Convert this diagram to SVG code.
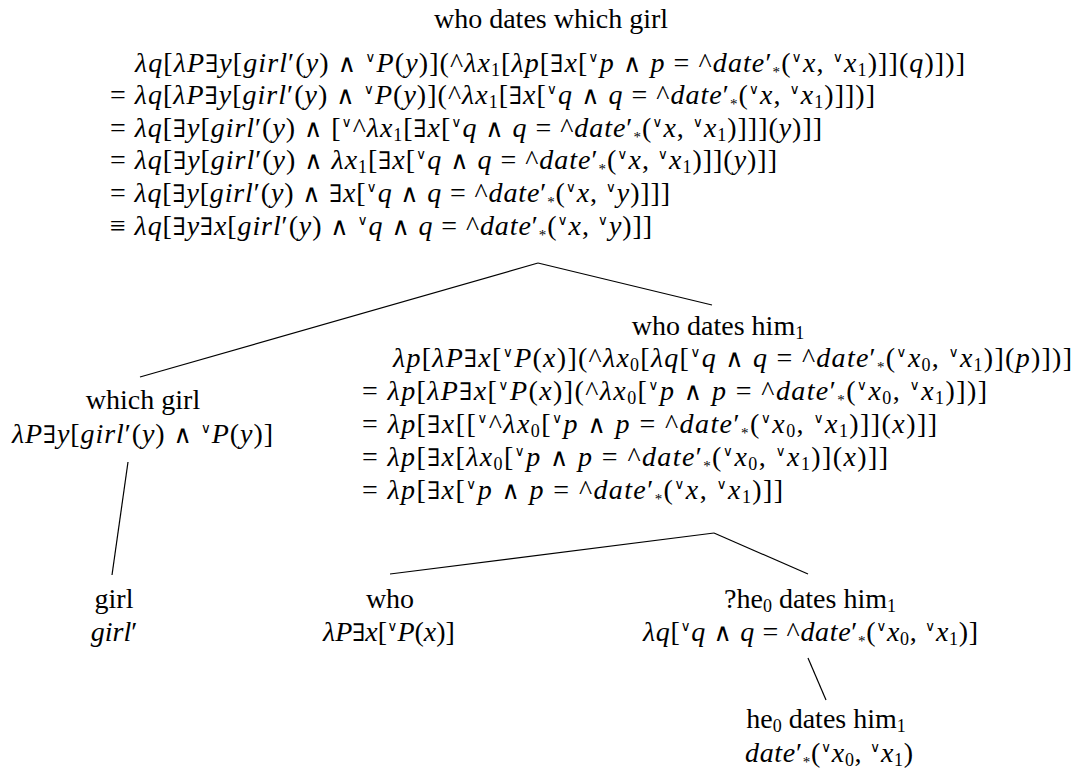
<svg xmlns="http://www.w3.org/2000/svg" width="1074" height="771" viewBox="0 0 1074 771">
<style>
text{font-family:"Liberation Serif","DejaVu Serif",serif;font-size:28px;fill:#000}
.i{font-style:italic}
.v{font-size:14px;baseline-shift:10px;font-family:"DejaVu Sans",sans-serif}
.sb{font-size:18px;baseline-shift:-4px}
.st{font-size:15px;baseline-shift:-5px}
.w{font-family:"DejaVu Sans",sans-serif;font-size:25px}
.e{font-family:"DejaVu Serif",serif;font-size:24px}
.mid{text-anchor:middle}
#edges line{stroke:#000;stroke-width:1.2}
</style>
<g id="edges">
<line x1="538" y1="263" x2="140" y2="377"/>
<line x1="538" y1="263" x2="712" y2="305"/>
<line x1="128" y1="462" x2="112" y2="575"/>
<line x1="714" y1="533" x2="390" y2="574"/>
<line x1="714" y1="533" x2="808" y2="574"/>
<line x1="808" y1="658" x2="826" y2="700"/>
</g>
<g id="n-root">
<text class="mid" x="551" y="28">who dates which girl</text>
<text x="135" y="72" textLength="830" lengthAdjust="spacing"><tspan class="i">λq</tspan>[<tspan class="i">λP</tspan><tspan class="e">∃</tspan><tspan class="i">y</tspan>[<tspan class="i">girl</tspan>′(<tspan class="i">y</tspan>) <tspan class="w">∧</tspan> <tspan class="v">∨</tspan><tspan class="i">P</tspan>(<tspan class="i">y</tspan>)](^<tspan class="i">λx</tspan><tspan class="sb">1</tspan>[<tspan class="i">λp</tspan>[<tspan class="e">∃</tspan><tspan class="i">x</tspan>[<tspan class="v">∨</tspan><tspan class="i">p</tspan> <tspan class="w">∧</tspan> <tspan class="i">p</tspan> = ^<tspan class="i">date</tspan>′<tspan class="st">*</tspan>(<tspan class="v">∨</tspan><tspan class="i">x</tspan>, <tspan class="v">∨</tspan><tspan class="i">x</tspan><tspan class="sb">1</tspan>)]](<tspan class="i">q</tspan>)])]</text>
<text x="110" y="104" textLength="765" lengthAdjust="spacing">= <tspan class="i">λq</tspan>[<tspan class="i">λP</tspan><tspan class="e">∃</tspan><tspan class="i">y</tspan>[<tspan class="i">girl</tspan>′(<tspan class="i">y</tspan>) <tspan class="w">∧</tspan> <tspan class="v">∨</tspan><tspan class="i">P</tspan>(<tspan class="i">y</tspan>)](^<tspan class="i">λx</tspan><tspan class="sb">1</tspan>[<tspan class="e">∃</tspan><tspan class="i">x</tspan>[<tspan class="v">∨</tspan><tspan class="i">q</tspan> <tspan class="w">∧</tspan> <tspan class="i">q</tspan> = ^<tspan class="i">date</tspan>′<tspan class="st">*</tspan>(<tspan class="v">∨</tspan><tspan class="i">x</tspan>, <tspan class="v">∨</tspan><tspan class="i">x</tspan><tspan class="sb">1</tspan>)]])]</text>
<text x="110" y="137" textLength="712" lengthAdjust="spacing">= <tspan class="i">λq</tspan>[<tspan class="e">∃</tspan><tspan class="i">y</tspan>[<tspan class="i">girl</tspan>′(<tspan class="i">y</tspan>) <tspan class="w">∧</tspan> [<tspan class="v">∨</tspan>^<tspan class="i">λx</tspan><tspan class="sb">1</tspan>[<tspan class="e">∃</tspan><tspan class="i">x</tspan>[<tspan class="v">∨</tspan><tspan class="i">q</tspan> <tspan class="w">∧</tspan> <tspan class="i">q</tspan> = ^<tspan class="i">date</tspan>′<tspan class="st">*</tspan>(<tspan class="v">∨</tspan><tspan class="i">x</tspan>, <tspan class="v">∨</tspan><tspan class="i">x</tspan><tspan class="sb">1</tspan>)]]](<tspan class="i">y</tspan>)]]</text>
<text x="110" y="169" textLength="667" lengthAdjust="spacing">= <tspan class="i">λq</tspan>[<tspan class="e">∃</tspan><tspan class="i">y</tspan>[<tspan class="i">girl</tspan>′(<tspan class="i">y</tspan>) <tspan class="w">∧</tspan> <tspan class="i">λx</tspan><tspan class="sb">1</tspan>[<tspan class="e">∃</tspan><tspan class="i">x</tspan>[<tspan class="v">∨</tspan><tspan class="i">q</tspan> <tspan class="w">∧</tspan> <tspan class="i">q</tspan> = ^<tspan class="i">date</tspan>′<tspan class="st">*</tspan>(<tspan class="v">∨</tspan><tspan class="i">x</tspan>, <tspan class="v">∨</tspan><tspan class="i">x</tspan><tspan class="sb">1</tspan>)]](<tspan class="i">y</tspan>)]]</text>
<text x="110" y="202" textLength="560" lengthAdjust="spacing">= <tspan class="i">λq</tspan>[<tspan class="e">∃</tspan><tspan class="i">y</tspan>[<tspan class="i">girl</tspan>′(<tspan class="i">y</tspan>) <tspan class="w">∧</tspan> <tspan class="e">∃</tspan><tspan class="i">x</tspan>[<tspan class="v">∨</tspan><tspan class="i">q</tspan> <tspan class="w">∧</tspan> <tspan class="i">q</tspan> = ^<tspan class="i">date</tspan>′<tspan class="st">*</tspan>(<tspan class="v">∨</tspan><tspan class="i">x</tspan>, <tspan class="v">∨</tspan><tspan class="i">y</tspan>)]]]</text>
<text x="110" y="235" textLength="542" lengthAdjust="spacing">≡ <tspan class="i">λq</tspan>[<tspan class="e">∃</tspan><tspan class="i">y</tspan><tspan class="e">∃</tspan><tspan class="i">x</tspan>[<tspan class="i">girl</tspan>′(<tspan class="i">y</tspan>) <tspan class="w">∧</tspan> <tspan class="v">∨</tspan><tspan class="i">q</tspan> <tspan class="w">∧</tspan> <tspan class="i">q</tspan> = ^<tspan class="i">date</tspan>′<tspan class="st">*</tspan>(<tspan class="v">∨</tspan><tspan class="i">x</tspan>, <tspan class="v">∨</tspan><tspan class="i">y</tspan>)]]</text>
</g>
<g id="n-wdh">
<text class="mid" x="718" y="335">who dates him<tspan class="sb">1</tspan></text>
<text x="393" y="367" textLength="679" lengthAdjust="spacing"><tspan class="i">λp</tspan>[<tspan class="i">λP</tspan><tspan class="e">∃</tspan><tspan class="i">x</tspan>[<tspan class="v">∨</tspan><tspan class="i">P</tspan>(<tspan class="i">x</tspan>)](^<tspan class="i">λx</tspan><tspan class="sb">0</tspan>[<tspan class="i">λq</tspan>[<tspan class="v">∨</tspan><tspan class="i">q</tspan> <tspan class="w">∧</tspan> <tspan class="i">q</tspan> = ^<tspan class="i">date</tspan>′<tspan class="st">*</tspan>(<tspan class="v">∨</tspan><tspan class="i">x</tspan><tspan class="sb">0</tspan>, <tspan class="v">∨</tspan><tspan class="i">x</tspan><tspan class="sb">1</tspan>)](<tspan class="i">p</tspan>)])]</text>
<text x="362" y="400" textLength="625" lengthAdjust="spacing">= <tspan class="i">λp</tspan>[<tspan class="i">λP</tspan><tspan class="e">∃</tspan><tspan class="i">x</tspan>[<tspan class="v">∨</tspan><tspan class="i">P</tspan>(<tspan class="i">x</tspan>)](^<tspan class="i">λx</tspan><tspan class="sb">0</tspan>[<tspan class="v">∨</tspan><tspan class="i">p</tspan> <tspan class="w">∧</tspan> <tspan class="i">p</tspan> = ^<tspan class="i">date</tspan>′<tspan class="st">*</tspan>(<tspan class="v">∨</tspan><tspan class="i">x</tspan><tspan class="sb">0</tspan>, <tspan class="v">∨</tspan><tspan class="i">x</tspan><tspan class="sb">1</tspan>)])]</text>
<text x="362" y="433" textLength="575" lengthAdjust="spacing">= <tspan class="i">λp</tspan>[<tspan class="e">∃</tspan><tspan class="i">x</tspan>[[<tspan class="v">∨</tspan>^<tspan class="i">λx</tspan><tspan class="sb">0</tspan>[<tspan class="v">∨</tspan><tspan class="i">p</tspan> <tspan class="w">∧</tspan> <tspan class="i">p</tspan> = ^<tspan class="i">date</tspan>′<tspan class="st">*</tspan>(<tspan class="v">∨</tspan><tspan class="i">x</tspan><tspan class="sb">0</tspan>, <tspan class="v">∨</tspan><tspan class="i">x</tspan><tspan class="sb">1</tspan>)]](<tspan class="i">x</tspan>)]]</text>
<text x="362" y="466" textLength="526" lengthAdjust="spacing">= <tspan class="i">λp</tspan>[<tspan class="e">∃</tspan><tspan class="i">x</tspan>[<tspan class="i">λx</tspan><tspan class="sb">0</tspan>[<tspan class="v">∨</tspan><tspan class="i">p</tspan> <tspan class="w">∧</tspan> <tspan class="i">p</tspan> = ^<tspan class="i">date</tspan>′<tspan class="st">*</tspan>(<tspan class="v">∨</tspan><tspan class="i">x</tspan><tspan class="sb">0</tspan>, <tspan class="v">∨</tspan><tspan class="i">x</tspan><tspan class="sb">1</tspan>)](<tspan class="i">x</tspan>)]]</text>
<text x="362" y="499" textLength="421" lengthAdjust="spacing">= <tspan class="i">λp</tspan>[<tspan class="e">∃</tspan><tspan class="i">x</tspan>[<tspan class="v">∨</tspan><tspan class="i">p</tspan> <tspan class="w">∧</tspan> <tspan class="i">p</tspan> = ^<tspan class="i">date</tspan>′<tspan class="st">*</tspan>(<tspan class="v">∨</tspan><tspan class="i">x</tspan>, <tspan class="v">∨</tspan><tspan class="i">x</tspan><tspan class="sb">1</tspan>)]]</text>
</g>
<g id="n-wg">
<text class="mid" x="143" y="409">which girl</text>
<text x="12" y="443" textLength="261" lengthAdjust="spacing"><tspan class="i">λP</tspan><tspan class="e">∃</tspan><tspan class="i">y</tspan>[<tspan class="i">girl</tspan>′(<tspan class="i">y</tspan>) <tspan class="w">∧</tspan> <tspan class="v">∨</tspan><tspan class="i">P</tspan>(<tspan class="i">y</tspan>)]</text>
</g>
<g id="n-girl">
<text class="mid" x="114" y="608">girl</text>
<text class="mid" x="114" y="641"><tspan class="i">girl</tspan>′</text>
</g>
<g id="n-who">
<text class="mid" x="390" y="608">who</text>
<text class="mid" x="389" y="641"><tspan class="i">λP</tspan><tspan class="e">∃</tspan><tspan class="i">x</tspan>[<tspan class="v">∨</tspan><tspan class="i">P</tspan>(<tspan class="i">x</tspan>)]</text>
</g>
<g id="n-qhe">
<text class="mid" x="810" y="608">?he<tspan class="sb">0</tspan> dates him<tspan class="sb">1</tspan></text>
<text x="643" y="641" textLength="335" lengthAdjust="spacing"><tspan class="i">λq</tspan>[<tspan class="v">∨</tspan><tspan class="i">q</tspan> <tspan class="w">∧</tspan> <tspan class="i">q</tspan> = ^<tspan class="i">date</tspan>′<tspan class="st">*</tspan>(<tspan class="v">∨</tspan><tspan class="i">x</tspan><tspan class="sb">0</tspan>, <tspan class="v">∨</tspan><tspan class="i">x</tspan><tspan class="sb">1</tspan>)]</text>
</g>
<g id="n-he">
<text class="mid" x="826" y="728">he<tspan class="sb">0</tspan> dates him<tspan class="sb">1</tspan></text>
<text x="745" y="762" textLength="168" lengthAdjust="spacing"><tspan class="i">date</tspan>′<tspan class="st">*</tspan>(<tspan class="v">∨</tspan><tspan class="i">x</tspan><tspan class="sb">0</tspan>, <tspan class="v">∨</tspan><tspan class="i">x</tspan><tspan class="sb">1</tspan>)</text>
</g>
</svg>
